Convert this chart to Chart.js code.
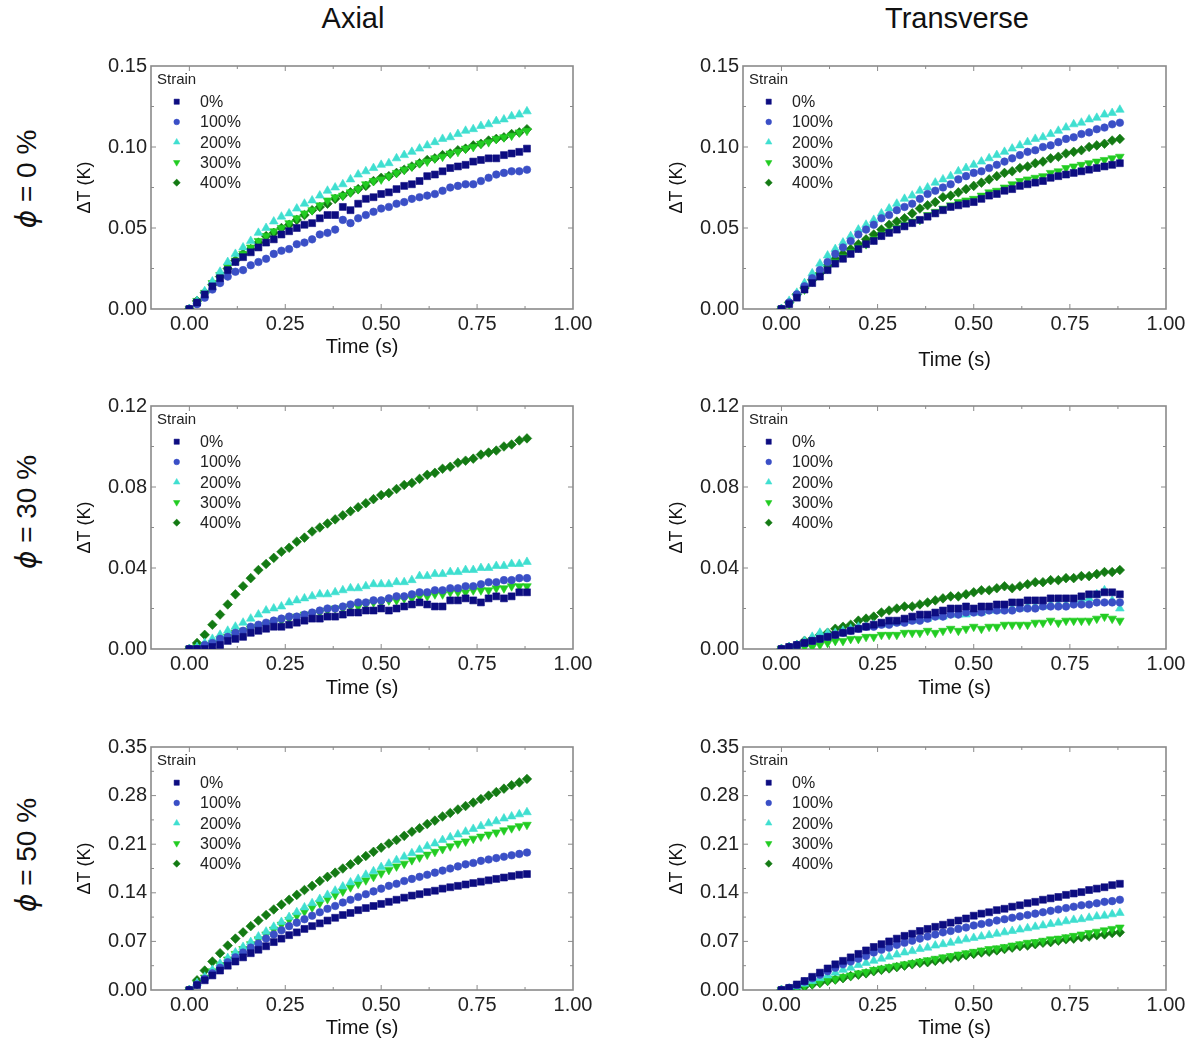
<!DOCTYPE html>
<html>
<head>
<meta charset="utf-8">
<title>Strain response</title>
<script src="https://cdn.jsdelivr.net/npm/chart.js@4.4.1/dist/chart.umd.min.js"></script>
<style>
  html, body { margin: 0; padding: 0; background: #fff; overflow: hidden; }
  #fig { position: relative; width: 1197px; height: 1045px; font-family: Arial, "Liberation Sans", sans-serif; color: #111; }
  .coltitle { position: absolute; top: 4px; font-size: 29px; line-height: 1; transform: translateX(-50%); white-space: nowrap; }
  .rowlabel { position: absolute; font-size: 28px; line-height: 1; white-space: nowrap; transform: translate(-50%, -50%) rotate(-90deg); }
  .rowlabel i { font-family: "DejaVu Sans", Arial, sans-serif; }
</style>
</head>
<body>
<div id="fig">
  <div class="coltitle" style="left:353px">Axial</div>
  <div class="coltitle" style="left:957px">Transverse</div>
  <div class="rowlabel" style="left:27px;top:179px"><i>ϕ</i> = 0 %</div>
  <div class="rowlabel" style="left:27px;top:512px"><i>ϕ</i> = 30 %</div>
  <div class="rowlabel" style="left:27px;top:855px"><i>ϕ</i> = 50 %</div>
</div>
<script>
// time axis (s), one sample every 0.02 s
const TIME = [0, 0.02, 0.04, 0.06, 0.08, 0.10, 0.12, 0.14, 0.16, 0.18, 0.20, 0.22, 0.24, 0.26, 0.28,
  0.30, 0.32, 0.34, 0.36, 0.38, 0.40, 0.42, 0.44, 0.46, 0.48, 0.50, 0.52, 0.54, 0.56, 0.58,
  0.60, 0.62, 0.64, 0.66, 0.68, 0.70, 0.72, 0.74, 0.76, 0.78, 0.80, 0.82, 0.84, 0.86, 0.88];

const STRAINS = ['0%', '100%', '200%', '300%', '400%'];
const X_TICKS = [0, 0.25, 0.5, 0.75, 1.0];
const Y_TICKS_PHI0 = [0, 0.05, 0.10, 0.15];
const Y_TICKS_PHI30 = [0, 0.04, 0.08, 0.12];
const Y_TICKS_PHI50 = [0, 0.07, 0.14, 0.21, 0.28, 0.35];

// phi = 0 %, axial
const AX0_S0 = [0, .004, .009, .014, .019, .024, .029, .032, .035, .038, .041, .043, .046, .048, .050,
  .052, .053, .056, .058, .058, .063, .061, .065, .068, .069, .071, .072, .074, .076, .077,
  .079, .082, .083, .085, .087, .088, .089, .091, .092, .093, .093, .095, .096, .097, .099];
const AX0_S1 = [0, .003, .007, .012, .016, .020, .023, .024, .027, .029, .031, .034, .036, .037, .040,
  .041, .043, .046, .047, .049, .055, .053, .056, .058, .060, .062, .063, .065, .066, .068,
  .069, .070, .071, .073, .075, .076, .077, .077, .079, .081, .083, .084, .085, .085, .086];
const AX0_S2 = [0, .005, .011, .017, .023, .029, .034, .038, .042, .047, .050, .054, .057, .059, .062,
  .065, .067, .070, .073, .075, .077, .080, .083, .085, .087, .089, .090, .093, .095, .097,
  .099, .101, .103, .105, .106, .108, .110, .111, .113, .114, .116, .117, .119, .120, .122];
const AX0_S3 = [0, .005, .010, .016, .021, .026, .030, .034, .038, .042, .045, .048, .050, .053, .056,
  .059, .061, .064, .067, .069, .070, .072, .074, .077, .079, .080, .082, .084, .086, .088,
  .090, .091, .093, .094, .096, .097, .099, .100, .102, .103, .105, .106, .107, .109, .110];
const AX0_S4 = [0, .005, .010, .015, .020, .025, .030, .034, .037, .041, .045, .047, .050, .052, .055,
  .058, .061, .063, .065, .068, .070, .072, .074, .076, .079, .081, .082, .084, .086, .088,
  .090, .092, .093, .095, .096, .098, .099, .101, .102, .104, .105, .106, .108, .109, .111];

// phi = 0 %, transverse
const TR0_S0 = [0, .003, .007, .012, .016, .020, .024, .028, .031, .034, .037, .040, .042, .045, .047,
  .049, .051, .053, .055, .057, .059, .061, .063, .064, .065, .066, .068, .070, .071, .073,
  .074, .076, .077, .078, .079, .081, .082, .083, .084, .085, .086, .087, .088, .089, .090];
const TR0_S1 = [0, .004, .009, .014, .019, .024, .029, .034, .038, .042, .046, .049, .052, .056, .058,
  .061, .063, .065, .068, .071, .073, .075, .077, .080, .082, .084, .085, .087, .089, .091,
  .093, .095, .097, .098, .100, .101, .103, .105, .106, .108, .109, .111, .112, .114, .115];
const TR0_S2 = [0, .005, .010, .016, .022, .028, .033, .037, .041, .045, .049, .052, .055, .059, .062,
  .065, .068, .070, .073, .075, .078, .080, .082, .085, .087, .089, .091, .093, .095, .097,
  .099, .101, .103, .105, .106, .108, .110, .112, .114, .115, .117, .118, .120, .121, .123];
const TR0_S3 = [0, .003, .008, .012, .017, .021, .025, .029, .032, .035, .038, .040, .043, .046, .048,
  .050, .052, .054, .055, .058, .060, .062, .064, .066, .067, .068, .070, .072, .073, .075,
  .077, .079, .080, .081, .082, .084, .085, .087, .088, .089, .090, .091, .092, .093, .094];
const TR0_S4 = [0, .004, .009, .013, .018, .022, .027, .031, .034, .037, .040, .043, .046, .049, .052,
  .054, .056, .059, .062, .064, .066, .069, .070, .072, .074, .076, .078, .080, .082, .084,
  .085, .087, .088, .090, .091, .093, .094, .096, .097, .098, .100, .101, .102, .104, .105];

// phi = 30 %, axial
const AX30_S0 = [0, .000, .000, .001, .002, .004, .005, .006, .008, .009, .010, .011, .011, .012, .013,
  .014, .015, .015, .016, .016, .017, .018, .018, .019, .019, .020, .019, .020, .021, .022,
  .023, .022, .021, .021, .024, .024, .025, .024, .023, .025, .026, .025, .026, .028, .028];
const AX30_S1 = [0, .000, .002, .003, .005, .006, .008, .009, .011, .012, .013, .014, .015, .016, .016,
  .017, .018, .019, .020, .020, .021, .022, .023, .023, .024, .024, .025, .026, .026, .027,
  .028, .028, .029, .029, .030, .030, .031, .031, .032, .033, .033, .034, .034, .035, .035];
const AX30_S2 = [0, .001, .003, .005, .007, .009, .011, .013, .015, .017, .019, .020, .021, .023, .024,
  .025, .026, .027, .027, .028, .029, .030, .030, .031, .032, .032, .032, .033, .033, .034,
  .036, .036, .037, .037, .038, .038, .039, .039, .040, .040, .041, .041, .042, .042, .043];
const AX30_S3 = [0, .001, .002, .003, .005, .006, .008, .009, .010, .011, .012, .013, .014, .015, .016,
  .017, .017, .018, .019, .020, .020, .021, .021, .022, .023, .023, .024, .024, .025, .025,
  .026, .026, .027, .027, .028, .028, .028, .029, .029, .029, .030, .030, .031, .031, .031];
const AX30_S4 = [0, .003, .007, .012, .017, .022, .027, .031, .035, .039, .042, .045, .048, .050, .053,
  .055, .058, .060, .062, .064, .066, .068, .070, .072, .074, .076, .077, .079, .081, .082,
  .084, .086, .087, .089, .090, .092, .093, .094, .096, .097, .098, .100, .101, .103, .104];

// phi = 30 %, transverse
const TR30_S0 = [0, .001, .002, .003, .004, .005, .006, .007, .008, .009, .010, .011, .012, .013, .014,
  .014, .015, .016, .017, .017, .018, .019, .020, .020, .021, .020, .021, .021, .022, .022,
  .023, .023, .024, .024, .024, .025, .025, .025, .025, .026, .027, .027, .028, .028, .027];
const TR30_S1 = [0, .001, .002, .003, .004, .005, .006, .007, .008, .009, .010, .011, .011, .012, .012,
  .013, .013, .014, .014, .015, .016, .016, .017, .017, .018, .018, .018, .019, .019, .019,
  .019, .020, .020, .020, .021, .021, .021, .021, .022, .022, .022, .023, .023, .023, .023];
const TR30_S2 = [0, .001, .002, .004, .006, .008, .008, .008, .009, .010, .011, .011, .012, .012, .013,
  .013, .014, .014, .015, .015, .016, .016, .017, .017, .017, .018, .018, .019, .019, .020,
  .020, .020, .021, .021, .021, .022, .022, .022, .023, .024, .025, .027, .029, .024, .020];
const TR30_S3 = [0, .000, .000, .001, .001, .002, .003, .004, .004, .005, .005, .006, .006, .007, .007,
  .007, .008, .008, .008, .009, .008, .009, .010, .009, .010, .011, .010, .011, .011, .012,
  .012, .012, .012, .013, .013, .014, .013, .014, .014, .014, .014, .015, .016, .015, .014];
const TR30_S4 = [0, .001, .002, .004, .005, .007, .008, .010, .011, .012, .014, .015, .016, .018, .019,
  .020, .021, .021, .022, .023, .024, .025, .026, .026, .027, .028, .029, .029, .030, .031,
  .030, .031, .032, .033, .033, .034, .034, .035, .035, .036, .036, .037, .038, .038, .039];

// phi = 50 %, axial
const AX50_S0 = [0, .007, .014, .021, .028, .035, .041, .047, .053, .058, .063, .069, .074, .079, .083,
  .088, .092, .096, .100, .104, .108, .111, .115, .118, .121, .124, .127, .130, .133, .136,
  .138, .141, .143, .146, .148, .150, .152, .154, .156, .158, .160, .162, .164, .166, .167];
const AX50_S1 = [0, .008, .016, .024, .032, .040, .047, .054, .061, .067, .074, .080, .086, .092, .097,
  .102, .107, .112, .117, .121, .126, .130, .134, .138, .142, .146, .150, .153, .157, .160,
  .163, .166, .169, .172, .175, .178, .181, .183, .186, .188, .190, .192, .194, .196, .198];
const AX50_S2 = [0, .010, .019, .029, .038, .046, .054, .062, .069, .077, .084, .091, .098, .105, .112,
  .119, .125, .131, .137, .143, .149, .155, .160, .166, .171, .177, .182, .187, .192, .197,
  .202, .207, .211, .216, .220, .224, .228, .232, .236, .240, .243, .247, .250, .253, .256];
const AX50_S3 = [0, .009, .018, .027, .036, .044, .052, .059, .066, .073, .080, .087, .094, .101, .107,
  .113, .119, .125, .131, .137, .142, .148, .153, .158, .163, .168, .173, .178, .182, .187,
  .191, .195, .199, .203, .207, .211, .214, .218, .221, .224, .227, .230, .233, .236, .238];
const AX50_S4 = [0, .014, .028, .041, .053, .064, .074, .083, .092, .100, .108, .116, .123, .130, .137,
  .144, .150, .157, .163, .169, .175, .181, .187, .193, .199, .205, .211, .216, .222, .228,
  .233, .239, .244, .250, .255, .260, .265, .270, .275, .280, .285, .290, .295, .299, .304];

// phi = 50 %, transverse
const TR50_S0 = [0, .003, .008, .013, .019, .025, .031, .037, .042, .047, .052, .057, .062, .066, .070,
  .074, .078, .081, .085, .088, .091, .094, .097, .100, .103, .107, .110, .112, .115, .117,
  .120, .122, .125, .127, .130, .132, .134, .137, .139, .141, .144, .146, .148, .151, .153];
const TR50_S1 = [0, .003, .007, .012, .017, .022, .027, .032, .037, .041, .045, .049, .054, .058, .061,
  .065, .068, .071, .074, .077, .080, .083, .085, .088, .090, .093, .095, .097, .100, .102,
  .104, .106, .108, .110, .112, .114, .116, .118, .120, .122, .123, .125, .127, .128, .130];
const TR50_S2 = [0, .002, .005, .009, .013, .017, .021, .025, .029, .032, .036, .039, .042, .045, .048,
  .051, .054, .056, .059, .061, .064, .066, .068, .071, .073, .075, .077, .079, .081, .083,
  .085, .087, .089, .091, .093, .095, .097, .099, .101, .102, .104, .106, .107, .109, .111];
const TR50_S3 = [0, .002, .004, .006, .009, .011, .014, .016, .019, .021, .024, .026, .029, .031, .033,
  .035, .037, .039, .041, .043, .045, .047, .049, .051, .053, .055, .057, .059, .060, .062,
  .064, .066, .068, .069, .071, .073, .074, .076, .078, .080, .082, .084, .086, .088, .090];
const TR50_S4 = [0, .001, .003, .005, .008, .010, .013, .015, .017, .020, .022, .024, .027, .029, .031,
  .033, .035, .037, .039, .040, .042, .044, .046, .048, .050, .052, .054, .055, .057, .059,
  .061, .063, .064, .066, .068, .069, .071, .073, .074, .076, .077, .079, .080, .082, .083];

const FONT = 'Arial, "Liberation Sans", sans-serif';
Chart.defaults.font.family = FONT;

const SERIES_STYLE = [
  { color: '#0c0c80', pointStyle: 'rect', rotation: 0, radius: 4.9 },
  { color: '#3a4fc6', pointStyle: 'circle', rotation: 0, radius: 3.8 },
  { color: '#3fdfd0', pointStyle: 'triangle', rotation: 0, radius: 5.0 },
  { color: '#22cc22', pointStyle: 'triangle', rotation: 180, radius: 5.0 },
  { color: '#137a13', pointStyle: 'rectRot', rotation: 0, radius: 4.8 },
];

const panels = [
  { left: 60, top: 50, padRight: 27, yMax: 0.15, yTicks: Y_TICKS_PHI0, xTitlePad: 21, series: [AX0_S0, AX0_S1, AX0_S2, AX0_S3, AX0_S4] },
  { left: 652, top: 50, padRight: 26, yMax: 0.15, yTicks: Y_TICKS_PHI0, xTitlePad: 8, series: [TR0_S0, TR0_S1, TR0_S2, TR0_S3, TR0_S4] },
  { left: 60, top: 390, padRight: 27, yMax: 0.12, yTicks: Y_TICKS_PHI30, xTitlePad: 20, series: [AX30_S0, AX30_S1, AX30_S2, AX30_S3, AX30_S4] },
  { left: 652, top: 390, padRight: 26, yMax: 0.12, yTicks: Y_TICKS_PHI30, xTitlePad: 20, series: [TR30_S0, TR30_S1, TR30_S2, TR30_S3, TR30_S4] },
  { left: 60, top: 731, padRight: 27, yMax: 0.35, yTicks: Y_TICKS_PHI50, xTitlePad: 21, series: [AX50_S0, AX50_S1, AX50_S2, AX50_S3, AX50_S4] },
  { left: 652, top: 731, padRight: 26, yMax: 0.35, yTicks: Y_TICKS_PHI50, xTitlePad: 21, series: [TR50_S0, TR50_S1, TR50_S2, TR50_S3, TR50_S4] },
];

// major tick + half-way minor tick positions
function tickMarks(values) {
  const out = [];
  values.forEach((v, i) => {
    out.push([v, 5]);
    if (i < values.length - 1) out.push([(v + values[i + 1]) / 2, 3]);
  });
  return out;
}

// box around the plot with inward ticks on all four sides
const framePlugin = {
  id: 'frame',
  beforeDatasetsDraw(chart) {
    const { ctx, chartArea: a, scales: { x, y } } = chart;
    ctx.save();
    ctx.strokeStyle = '#8a8a8a';
    ctx.lineWidth = 1.6;
    ctx.strokeRect(a.left, a.top, a.right - a.left, a.bottom - a.top);
    ctx.lineWidth = 1;
    ctx.beginPath();
    tickMarks(x.ticks.map((t) => t.value)).forEach(([v, len]) => {
      const px = x.getPixelForValue(v);
      if (px <= a.left + 1 || px >= a.right - 1) return;
      ctx.moveTo(px, a.bottom); ctx.lineTo(px, a.bottom - len);
      ctx.moveTo(px, a.top); ctx.lineTo(px, a.top + len);
    });
    tickMarks(y.ticks.map((t) => t.value)).forEach(([v, len]) => {
      const py = y.getPixelForValue(v);
      if (py <= a.top + 1 || py >= a.bottom - 1) return;
      ctx.moveTo(a.left, py); ctx.lineTo(a.left + len, py);
      ctx.moveTo(a.right, py); ctx.lineTo(a.right - len, py);
    });
    ctx.stroke();
    ctx.restore();
  },
};

// "Strain" legend inside the top-left corner of the plot
const legendPlugin = {
  id: 'strainLegend',
  afterDatasetsDraw(chart) {
    const { ctx, chartArea: a } = chart;
    ctx.save();
    ctx.textBaseline = 'middle';
    ctx.fillStyle = '#222';
    ctx.font = '15px ' + FONT;
    ctx.fillText('Strain', a.left + 6, a.top + 14);
    ctx.font = '16px ' + FONT;
    chart.data.datasets.forEach((ds, i) => {
      const yy = a.top + 35.7 + i * 20.25;
      ctx.fillStyle = ds.backgroundColor;
      ctx.strokeStyle = ds.borderColor;
      ctx.lineWidth = 0.5;
      Chart.helpers.drawPoint(ctx, {
        pointStyle: ds.pointStyle,
        rotation: ds.pointRotation,
        radius: ds.pointRadius * 0.75,
        borderWidth: 0.5,
      }, a.left + 25.7, yy);
      ctx.fillStyle = '#222';
      ctx.fillText(ds.label, a.left + 49, yy + 1);
    });
    ctx.restore();
  },
};

const fig = document.getElementById('fig');

panels.forEach((p) => {
  const canvas = document.createElement('canvas');
  canvas.width = 540;
  canvas.height = 330;
  canvas.style.cssText = `position:absolute;left:${p.left}px;top:${p.top}px;width:540px;height:330px;`;
  fig.appendChild(canvas);

  const datasets = p.series.map((vals, k) => {
    const st = SERIES_STYLE[k];
    return {
      label: STRAINS[k],
      data: TIME.map((t, i) => ({ x: t, y: vals[i] })),
      pointStyle: st.pointStyle,
      pointRotation: st.rotation,
      pointRadius: st.radius,
      pointBorderWidth: 0.6,
      backgroundColor: st.color,
      borderColor: st.color,
      showLine: false,
    };
  });

  new Chart(canvas, {
    type: 'scatter',
    data: { datasets },
    options: {
      responsive: false,
      animation: false,
      devicePixelRatio: 1,
      layout: { padding: { top: 16, right: p.padRight, bottom: 0, left: 0 } },
      plugins: { legend: { display: false }, tooltip: { enabled: false } },
      scales: {
        x: {
          type: 'linear',
          min: -0.1,
          max: 1.0,
          afterBuildTicks: (s) => { s.ticks = X_TICKS.map((v) => ({ value: v })); },
          afterFit: (s) => { s.height = 71; },
          grid: { display: false, drawTicks: false },
          border: { display: false },
          ticks: { callback: (v) => Number(v).toFixed(2), padding: 3, color: '#222', font: { size: 20 }, maxRotation: 0, autoSkip: false },
          title: { display: true, text: 'Time (s)', color: '#111', font: { size: 20 }, padding: { top: 0, bottom: p.xTitlePad } },
        },
        y: {
          min: 0,
          max: p.yMax,
          afterBuildTicks: (s) => { s.ticks = p.yTicks.map((v) => ({ value: v })); },
          afterFit: (s) => { s.width = 91; },
          grid: { display: false, drawTicks: false },
          border: { display: false },
          ticks: { callback: (v) => Number(v).toFixed(2), padding: 4, color: '#222', font: { size: 20 } },
          title: { display: true, text: 'ΔT (K)', color: '#111', font: { size: 18 }, padding: { top: 14, bottom: 0 } },
        },
      },
    },
    plugins: [framePlugin, legendPlugin],
  });
});
</script>
</body>
</html>
